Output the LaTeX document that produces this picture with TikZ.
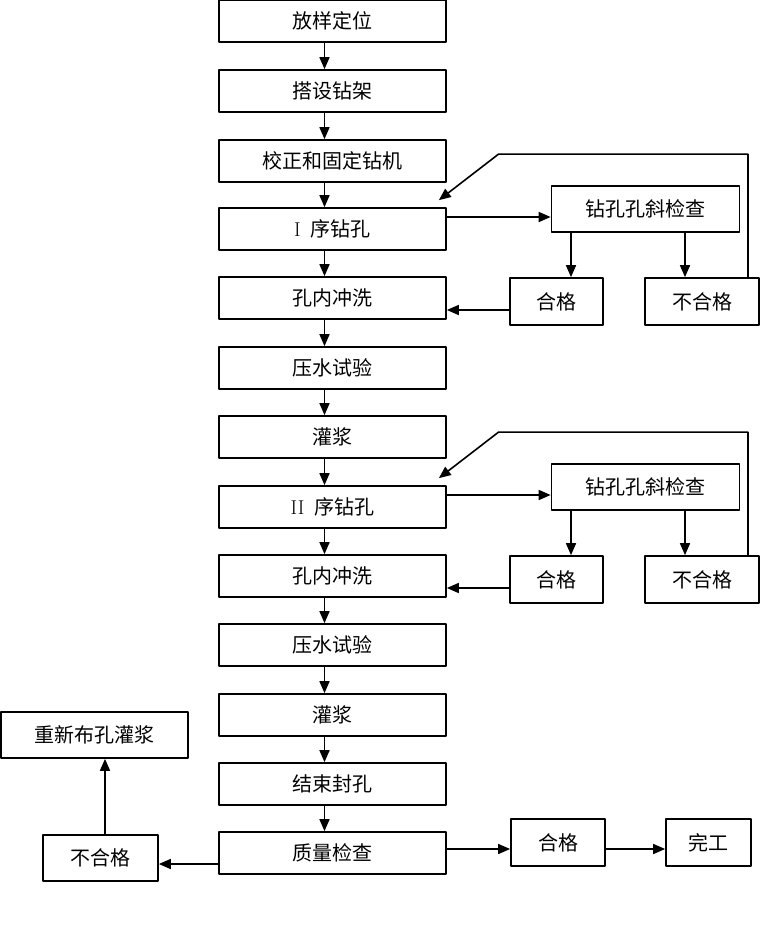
\documentclass[tikz,border=0pt]{standalone}
\usepackage{fontspec}
\newfontfamily\cjk{Noto Sans CJK SC}
\usetikzlibrary{arrows.meta}
\definecolor{uququq}{rgb}{0,0,0}

\begin{document}
\begin{tikzpicture}[line join=round,x=1pt,y=-1pt,
    box/.style={draw=uququq,line width=1.7pt,inner sep=0pt,minimum height=42pt,
      font=\cjk\fontsize{20}{24}\selectfont},
    mainbox/.style={box,minimum width=227pt},
    arr/.style={-{Triangle[length=12pt,width=10pt]},line width=1.6pt,color=uququq}]
      \useasboundingbox (0,0) rectangle (760,932);
      % main column
      \node[mainbox] (s1) at (332.5,21) {放样定位};
      \node[mainbox] (s2) at (332.5,91) {搭设钻架};
      \node[mainbox] (s3) at (332.5,161) {校正和固定钻机};
      \node[mainbox] (d1) at (332.5,229) {{\rmfamily I}\enspace 序钻孔};
      \node[mainbox] (w1) at (332.5,298) {孔内冲洗};
      \node[mainbox] (p1) at (332.5,368) {压水试验};
      \node[mainbox] (g1) at (332.5,437) {灌浆};
      \node[mainbox] (d2) at (332.5,507) {{\rmfamily II}\enspace 序钻孔};
      \node[mainbox] (w2) at (332.5,576) {孔内冲洗};
      \node[mainbox] (p2) at (332.5,645) {压水试验};
      \node[mainbox] (g2) at (332.5,715) {灌浆};
      \node[mainbox] (e1) at (332.5,784) {结束封孔};
      \node[mainbox] (q1) at (332.5,853) {质量检查};
      \foreach \a/\b in {s1/s2,s2/s3,s3/d1,d1/w1,w1/p1,p1/g1,g1/d2,d2/w2,w2/p2,p2/g2,g2/e1,e1/q1}
      \draw[arr] ([xshift=-8pt]\a.south) -- ([xshift=-8pt]\b.north);
      % hole checks
      \foreach \i/\d/\w/\y in {1/d1/w1/209,2/d2/w2/487} {
        \node[box,minimum width=188pt,minimum height=46pt] (chk\i) at (645.5,\y) {钻孔孔斜检查};
        \node[box,minimum width=93pt,minimum height=47pt] (ok\i) at (556.5,\y+92.5) {合格};
        \node[box,minimum width=114pt,minimum height=47pt] (ng\i) at (702,\y+92.5) {不合格};
        \draw[arr] ([yshift=12pt]\d.east) -- ([yshift=12pt]\d.east -| chk\i.west);
        \draw[arr] ([xshift=14.5pt]ok\i.north |- chk\i.south) -- ([xshift=14.5pt]ok\i.north);
        \draw[arr] ([xshift=-17pt]ng\i.north |- chk\i.south) -- ([xshift=-17pt]ng\i.north);
        \draw[arr] ([yshift=-8.5pt]ok\i.west) -- ([yshift=-8.5pt]ok\i.west -| \w.east);
        \draw[arr] ([xshift=46pt]ng\i.north) |- ([xshift=-147pt,yshift=31pt]chk\i.north) -- ([shift={(-8pt,7pt)}]\d.north east);
      }
      % quality check
      \node[box,minimum width=187pt,minimum height=46pt] (r1) at (94.5,735) {重新布孔灌浆};
      \node[box,minimum width=115pt,minimum height=46pt] (ng3) at (100.5,858) {不合格};
      \node[box,minimum width=94pt,minimum height=47pt] (ok3) at (558,842.5) {合格};
      \node[box,minimum width=85pt,minimum height=47pt] (f1) at (708.5,842.5) {完工};
      \draw[arr] ([yshift=-11pt]q1.west) -- ([yshift=-11pt]q1.west -| ng3.east);
      \draw[arr] ([xshift=4.5pt]ng3.north) -- ([xshift=4.5pt]ng3.north |- r1.south);
      \draw[arr] ([yshift=4pt]q1.east) -- ([yshift=4pt]q1.east -| ok3.west);
      \draw[arr] ([yshift=-6.5pt]ok3.east) -- ([yshift=-6.5pt]ok3.east -| f1.west);
    \end{tikzpicture}
\end{document}
